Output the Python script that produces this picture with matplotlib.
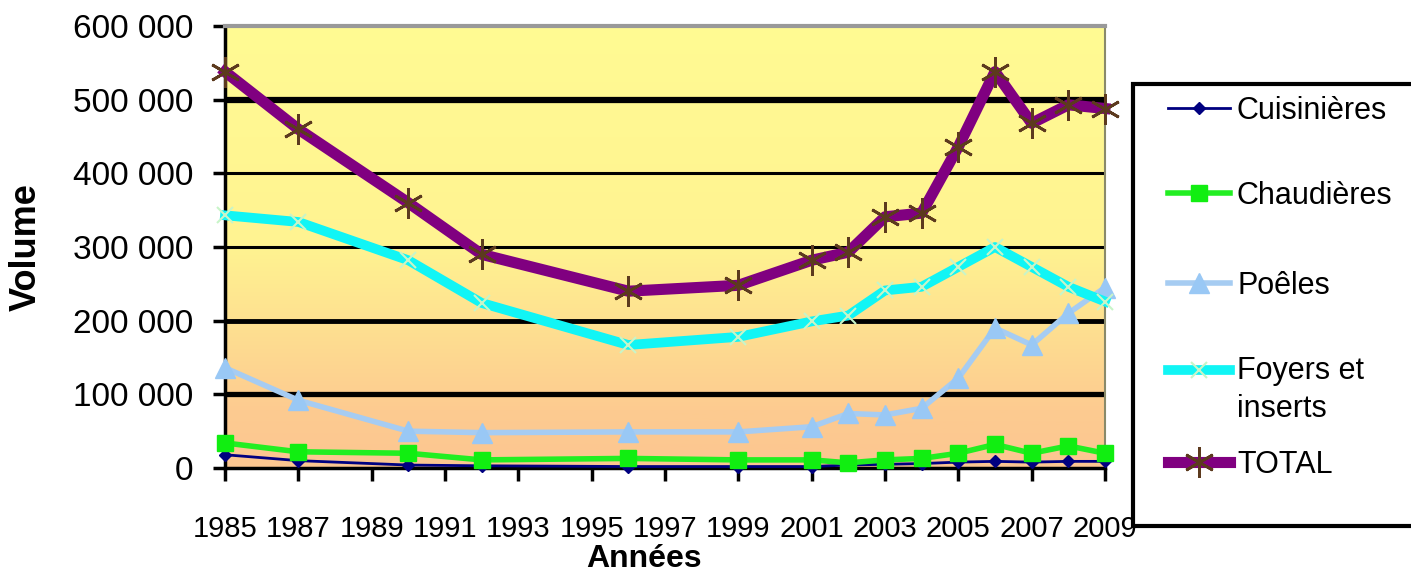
import numpy as np
import matplotlib
matplotlib.use("Agg")
import matplotlib.pyplot as plt
from matplotlib.lines import Line2D
from matplotlib.patches import Rectangle
from matplotlib.ticker import FuncFormatter
from matplotlib.colors import LinearSegmentedColormap

plt.rcParams['font.family'] = ['Liberation Sans', 'DejaVu Sans']

# data
years = [1985, 1987, 1990, 1992, 1996, 1999, 2001, 2002, 2003, 2004, 2005, 2006, 2007, 2008, 2009]
cuisinieres = [18000, 10000, 4000, 3000, 2000, 2000, 2000, 4000, 5000, 6000, 8000, 9000, 8000, 9000, 9000]
chaudieres = [34000, 22000, 20000, 11000, 13000, 11000, 11000, 7000, 11000, 13000, 20000, 32000, 20000, 30000, 20000]
poeles = [136000, 92000, 50000, 48000, 49000, 49000, 56000, 74000, 72000, 81000, 122000, 190000, 167000, 210000, 245000]
foyers = [343000, 334000, 282000, 224000, 167000, 178000, 199000, 207000, 241000, 246000, 273000, 300000, 273000, 246000, 226000]
total = [538000, 460000, 360000, 290000, 240000, 248000, 282000, 293000, 341000, 346000, 436000, 538000, 468000, 493000, 488000]

labels = ['Cuisinières', 'Chaudières', 'Poêles', 'Foyers et\ninserts', 'TOTAL']
xticks = list(range(1985, 2010, 2))
yticks = list(range(0, 600001, 100000))

W, H = 1411, 584
fig = plt.figure(figsize=(W / 100, H / 100), dpi=100)
ax = fig.add_axes([225 / W, 1 - 468 / H, 880 / W, 442 / H])

# yellow -> peach background
cmap = LinearSegmentedColormap.from_list('bg', [(0, '#FCC690'), (0.13, '#FDCB90'),
                                                (0.5, '#FFF391'), (1, '#FFFB93')])
grad = np.linspace(1, 0, 256).reshape(-1, 1)
ax.imshow(grad, cmap=cmap, extent=[0, 1, 0, 1], transform=ax.transAxes,
          aspect='auto', zorder=0, vmin=0, vmax=1)

styles = [
    dict(color='#000080', lw=2, marker='D', ms=6, mfc='#000080', mec='#000080'),
    dict(color='#22EE22', lw=4, marker='s', ms=12, mfc='#11EE11', mec='#11EE11'),
    dict(color='#A6CCF2', lw=4, marker='^', ms=15, mfc='#99C8F5', mec='#99C8F5'),
    dict(color='#11F5F5', lw=7, marker='x', ms=12, mew=1.5, mec='#C8F5C8'),
    dict(color='#800080', lw=8, marker=(6, 2, 0), ms=22, mew=2, mec='#5C3A1E'),
]
series = [cuisinieres, chaudieres, poeles, foyers, total]
for vals, st in zip(series, styles):
    ax.plot(years, vals, zorder=3, clip_on=False, **st)

ax.set_xlim(1985, 2009)
ax.set_ylim(0, 600000)
ax.set_xticks(xticks)
ax.set_yticks(yticks)
ax.yaxis.set_major_formatter(FuncFormatter(lambda v, p: f'{int(v):,}'.replace(',', ' ')))

ax.yaxis.grid(True, color='black', lw=3.5, zorder=1)
ax.set_axisbelow(True)
# gridlines at 0 .. 600 000, uneven weight as in the original
for gl, w in zip(ax.get_ygridlines(), [0, 3.8, 3.5, 2.2, 2.2, 4.5, 0]):
    gl.set_linewidth(w)

ax.spines['left'].set_linewidth(2.5)
ax.spines['bottom'].set_linewidth(2.5)
ax.spines['top'].set_color('#999999')
ax.spines['top'].set_linewidth(3)
ax.spines['right'].set_color('#8A8A6A')
ax.spines['right'].set_linewidth(1.5)
ax.tick_params(axis='both', length=9, width=2.5, color='black')
ax.tick_params(axis='y', pad=14, labelsize=24)
ax.tick_params(axis='x', pad=25, labelsize=21)

ax.set_ylabel('Volume', fontsize=26, fontweight='bold')
ax.yaxis.set_label_coords((44 - 225) / 880, 0.5)
ax.set_xlabel('Années', fontsize=23, fontweight='bold')
ax.xaxis.set_label_coords((644 - 225) / 880, (468 - 544) / 442)

# legend box drawn by hand to follow the original spacing
fig.patches.append(Rectangle((1133 / W, 1 - 526 / H), (W - 1133 + 20) / W, 442 / H,
                             transform=fig.transFigure, facecolor='white',
                             edgecolor='black', lw=3, zorder=5))
rows = [108, 193, 283, 370, 462]
for lab, st, y in zip(labels, styles, rows):
    yf = 1 - y / H
    fig.lines.append(Line2D([1168 / W, 1230 / W], [yf, yf], transform=fig.transFigure,
                            zorder=6, **{k: v for k, v in st.items() if k != 'marker'}))
    fig.lines.append(Line2D([1199 / W], [yf], transform=fig.transFigure, zorder=7,
                            ls='none', **{k: v for k, v in st.items() if k not in ('color', 'lw')}))
    if '\n' in lab:
        fig.text(1237 / W, 1 - 356 / H, lab, fontsize=22, va='top', ha='left',
                 zorder=8, linespacing=1.35)
    else:
        fig.text(1237 / W, 1 - (y + 3) / H, lab, fontsize=22, va='center', ha='left', zorder=8)

fig.savefig('out.png', dpi=100)
